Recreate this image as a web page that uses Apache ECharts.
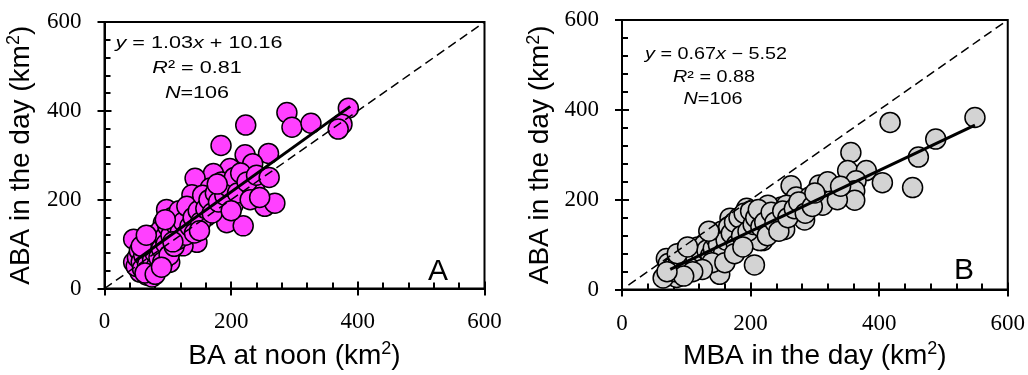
<!DOCTYPE html>
<html>
<head>
<meta charset="utf-8">
<script src="https://cdn.jsdelivr.net/npm/echarts@6/dist/echarts.min.js"></script>
<style>
  html, body { margin: 0; padding: 0; background: #fff; }
  #chart { width: 1028px; height: 375px; }
</style>
</head>
<body>
<div id="chart"></div>
<script>
// panel A: BA at noon (x) vs ABA in the day (y), km2
var pointsA = [
  [288, 396], [296, 363], [326, 372], [385, 406], [375, 370], [369, 359], [223, 368], [184, 322],
  [222, 301], [259, 304], [198, 270], [234, 281], [172, 259], [143, 248], [167, 226], [138, 211],
  [237, 224], [253, 185], [269, 192], [203, 188], [156, 192], [98, 178], [132, 167], [161, 163],
  [193, 148], [219, 141], [93, 148], [114, 133], [146, 104], [124, 96], [103, 81], [46, 111],
  [61, 89], [72, 111], [46, 59], [56, 37], [67, 30], [75, 26], [85, 44], [103, 59],
  [50, 50], [52, 70], [55, 85], [58, 60], [60, 45], [62, 75], [65, 100], [68, 55],
  [70, 85], [72, 40], [74, 95], [76, 65], [78, 120], [80, 80], [82, 50], [84, 105],
  [86, 70], [88, 130], [90, 90], [92, 60], [95, 115], [97, 100], [100, 140], [102, 75],
  [105, 120], [107, 160], [110, 95], [112, 145], [115, 110], [118, 175], [120, 130], [125, 150],
  [128, 120], [130, 185], [135, 140], [140, 160], [142, 125], [148, 175], [152, 150], [155, 210],
  [160, 180], [165, 200], [170, 170], [175, 215], [180, 195], [185, 240], [190, 210], [195, 230],
  [205, 250], [210, 215], [215, 260], [225, 240], [230, 200], [240, 255], [245, 205], [260, 250],
  [64, 35], [80, 32], [90, 48], [58, 95], [66, 120], [96, 155], [108, 105], [150, 130],
  [178, 235], [200, 175]
];
var fitA = [[48, 62], [388, 410]];
var identityA = [[0, 0], [600, 600]];

// panel B: MBA in the day (x) vs ABA in the day (y), km2
var pointsB = [
  [549, 383], [417, 372], [488, 335], [461, 295], [452, 227], [356, 305], [351, 265], [380, 265],
  [364, 242], [362, 220], [362, 199], [405, 238], [263, 231], [307, 233], [320, 240], [271, 206],
  [292, 206], [312, 188], [284, 155], [248, 184], [253, 134], [219, 166], [240, 163], [219, 109],
  [206, 55], [194, 181], [168, 159], [183, 141], [165, 120], [137, 105], [152, 34], [131, 66],
  [111, 91], [95, 84], [69, 69], [75, 34], [85, 27], [80, 55], [100, 52], [227, 188],
  [256, 188], [64, 26], [162, 84], [203, 155], [214, 109], [121, 80], [90, 48], [141, 102],
  [72, 58], [78, 48], [82, 40], [88, 62], [92, 45], [98, 70], [104, 60], [108, 78],
  [115, 70], [118, 95], [122, 85], [128, 100], [132, 88], [138, 76], [142, 92], [146, 115],
  [150, 100], [155, 130], [158, 82], [162, 110], [166, 140], [170, 125], [175, 150], [178, 100],
  [182, 160], [186, 120], [190, 170], [196, 130], [200, 175], [204, 145], [208, 160], [212, 178],
  [216, 140], [222, 150], [226, 120], [232, 172], [238, 150], [244, 130], [250, 175], [258, 160],
  [268, 180], [275, 195], [285, 170], [296, 185], [300, 215], [335, 200], [340, 230], [140, 60],
  [125, 45], [110, 40], [96, 30], [160, 60], [175, 80], [188, 95], [70, 40], [86, 80],
  [102, 95], [135, 130]
];
var fitB = [[75, 45], [549, 366]];
var identityB = [[10, 10], [600, 600]];

var axisMin = 0, axisMax = 600, axisStep = 200, minorStep = 40;

var chart = echarts.init(document.getElementById('chart'));

var titleRich = {
  n: { fontFamily: 'Liberation Sans', fontSize: 28, color: '#000' },
  sup: { fontFamily: 'Liberation Sans', fontSize: 18, color: '#000', padding: [0, 0, 13, 0] }
};

// axis with labels and inside major ticks
function mainAxis(grid, pos, name, nameGap, labelMargin) {
  return {
    type: 'value', gridIndex: grid, position: pos,
    min: axisMin, max: axisMax, interval: axisStep,
    name: name, nameLocation: 'middle', nameGap: nameGap,
    nameTextStyle: { rich: titleRich },
    axisLine: { show: true, onZero: false, lineStyle: { color: '#000', width: 2 } },
    axisTick: { show: true, inside: true, length: 7, lineStyle: { color: '#000', width: 2 } },
    axisLabel: { margin: labelMargin, fontFamily: 'Liberation Serif', fontSize: 23, color: '#000' },
    splitLine: { show: false }
  };
}
// extra tick-only axes: outward half of the majors, and the inside minors
function tickAxis(grid, pos, step, inside, len) {
  return {
    type: 'value', gridIndex: grid, position: pos,
    min: axisMin, max: axisMax, interval: step,
    axisLine: { show: false },
    axisTick: { show: true, inside: inside, length: len, lineStyle: { color: '#000', width: 2 } },
    axisLabel: { show: false },
    splitLine: { show: false }
  };
}

function scatter(data, x, y, fill) {
  return {
    type: 'scatter', xAxisIndex: x, yAxisIndex: y, data: data,
    symbolSize: 20, z: 2,
    itemStyle: { color: fill, borderColor: '#000', borderWidth: 1.5, opacity: 1 }
  };
}
function line(data, x, y, dashed) {
  return {
    type: 'line', xAxisIndex: x, yAxisIndex: y, data: data,
    symbol: 'none', clip: true, z: dashed ? 3 : 4,
    lineStyle: { color: '#000', width: dashed ? 1.5 : 3, type: dashed ? [9, 5] : 'solid' }
  };
}

// the equation text in the source is drawn a bit wider than the font, hence scaleX
function eqText(x, y, text, size, stretch) {
  return {
    type: 'text', x: x, y: y, scaleX: stretch,
    style: {
      text: text, textAlign: 'center', textVerticalAlign: 'middle',
      rich: {
        n: { fontFamily: 'Liberation Sans', fontSize: size, fill: '#000', color: '#000' },
        i: { fontFamily: 'Liberation Sans', fontSize: size, fontStyle: 'italic', fill: '#000', color: '#000' }
      }
    }
  };
}

var option = {
  animation: false,
  backgroundColor: '#fff',
  grid: [
    { left: 104.5, top: 22, width: 380, height: 271.3, show: true, borderColor: '#000', borderWidth: 2, backgroundColor: 'transparent' },
    { left: 622, top: 20, width: 386.7, height: 279, show: true, borderColor: '#000', borderWidth: 2, backgroundColor: 'transparent' }
  ],
  xAxis: [
    mainAxis(0, 'bottom', '{n|BA at noon (km}{sup|2}{n|)}', 52, 22),
    tickAxis(0, 'bottom', axisStep, false, 7),
    tickAxis(0, 'bottom', minorStep, true, 6),
    mainAxis(1, 'bottom', '{n|MBA in the day (km}{sup|2}{n|)}', 49, 23),
    tickAxis(1, 'bottom', axisStep, false, 7),
    tickAxis(1, 'bottom', minorStep, true, 6)
  ],
  yAxis: [
    mainAxis(0, 'left', '{n|ABA in the day (km}{sup|2}{n|)}', 68, 23),
    tickAxis(0, 'left', axisStep, false, 7),
    tickAxis(0, 'left', minorStep, true, 6),
    mainAxis(1, 'left', '{n|ABA in the day (km}{sup|2}{n|)}', 66, 23),
    tickAxis(1, 'left', axisStep, false, 7),
    tickAxis(1, 'left', minorStep, true, 6)
  ],
  series: [
    scatter(pointsA, 0, 0, '#ff40ff'),
    line(identityA, 0, 0, true),
    line(fitA, 0, 0, false),
    scatter(pointsB, 3, 3, '#d3d3d3'),
    line(identityB, 3, 3, true),
    line(fitB, 3, 3, false)
  ],
  graphic: [
    eqText(199, 43, '{i|y}{n| = 1.03}{i|x}{n| + 10.16}', 17, 1.27),
    eqText(197, 68, '{i|R}{n|² = 0.81}', 17, 1.27),
    eqText(197, 93, '{i|N}{n|=106}', 17, 1.27),
    eqText(716, 54, '{i|y}{n| = 0.67}{i|x}{n| − 5.52}', 16.5, 1.2),
    eqText(714, 77, '{i|R}{n|² = 0.88}', 16.5, 1.2),
    eqText(713, 99, '{i|N}{n|=106}', 16.5, 1.2),
    { type: 'text', x: 438, y: 272, style: { text: 'A', font: '30px "Liberation Sans"', fill: '#000', textAlign: 'center', textVerticalAlign: 'middle' } },
    { type: 'text', x: 964, y: 271, style: { text: 'B', font: '30px "Liberation Sans"', fill: '#000', textAlign: 'center', textVerticalAlign: 'middle' } }
  ]
};

chart.setOption(option);
</script>
</body>
</html>
